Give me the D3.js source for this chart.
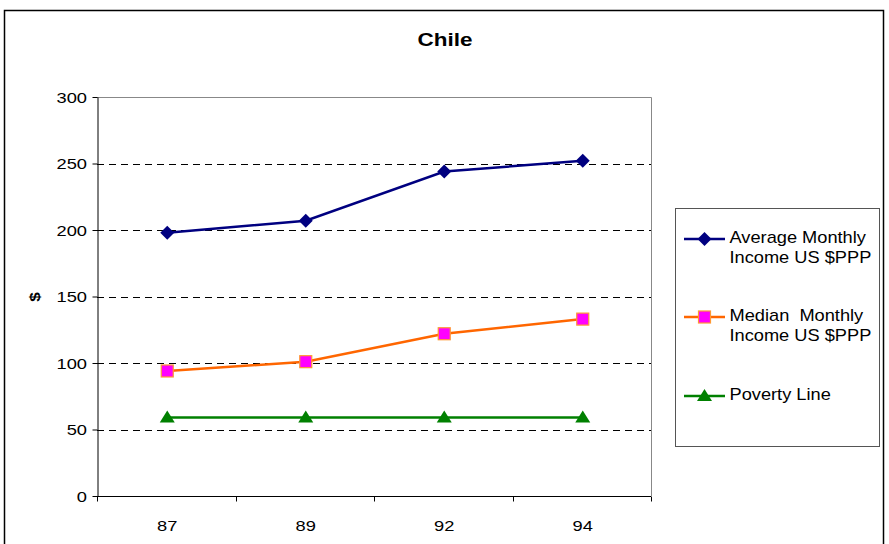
<!DOCTYPE html>
<html>
<head>
<meta charset="utf-8">
<script src="https://cdn.jsdelivr.net/npm/d3@7"></script>
<style>
  html, body { margin: 0; padding: 0; background: #fff; }
  svg { display: block; font-family: "Liberation Sans", Arial, sans-serif; }
</style>
</head>
<body>
<svg id="chart" width="889" height="544"></svg>
<script>
// Survey years and monthly income series (US $PPP)
const years = ["87", "89", "92", "94"];
const averageIncome = [198, 207, 244, 252];
const medianIncome = [94, 101, 122, 133];
const povertyLine = [59, 59, 59, 59];
const yTicks = [0, 50, 100, 150, 200, 250, 300];

const seriesNames = [
  ["Average Monthly", "Income US $PPP"],
  ["Median  Monthly", "Income US $PPP"],
  ["Poverty Line"]
];

const svg = d3.select("#chart");

// Text drawn with a slightly widened face
function wideText(parent, x, y, str, opts) {
  const t = parent.append("text")
    .attr("transform", `translate(${x},${y}) scale(${opts.sx},1)`)
    .attr("font-size", opts.size)
    .attr("text-anchor", opts.anchor || "start")
    .attr("fill", "#000")
    .attr("xml:space", "preserve")
    .style("white-space", "pre")
    .text(str);
  if (opts.bold) t.attr("font-weight", "bold");
  return t;
}

// Outer chart frame
svg.append("rect")
  .attr("x", 4.5).attr("y", 10.5)
  .attr("width", 879).attr("height", 560)
  .attr("fill", "#fff").attr("stroke", "#000").attr("stroke-width", 1.5);

wideText(svg, 445, 46, "Chile", { size: 18, sx: 1.25, anchor: "middle", bold: true });

const plot = { left: 97, right: 651, top: 97, bottom: 496 };

const x = d3.scaleBand().domain(years).range([plot.left, plot.right]);
const y = d3.scaleLinear().domain([0, 300]).range([plot.bottom, plot.top]);

// Plot area border (top and right)
svg.append("path")
  .attr("d", `M${plot.left},${plot.top + 0.5}H${plot.right + 0.5}V${plot.bottom}`)
  .attr("fill", "none").attr("stroke", "#888").attr("stroke-width", 1);

// Dashed gridlines
svg.append("g")
  .selectAll("line")
  .data(yTicks.filter(t => t > 0 && t < 300))
  .join("line")
  .attr("x1", plot.left).attr("x2", plot.right)
  .attr("y1", d => Math.round(y(d)) + 0.5).attr("y2", d => Math.round(y(d)) + 0.5)
  .attr("stroke", "#000").attr("stroke-width", 1)
  .attr("stroke-dasharray", "7,5");

// Y axis
const yAxis = svg.append("g")
  .attr("transform", `translate(${plot.left + 0.5},0)`)
  .call(d3.axisLeft(y).tickValues(yTicks).tickSize(5).tickSizeOuter(0).tickFormat(""));
yAxis.select(".domain").attr("stroke", "#000");
yAxis.selectAll(".tick line").attr("stroke", "#000");
yTicks.forEach(t => {
  wideText(svg, plot.left - 10, y(t) + 5.5, String(t), { size: 15, sx: 1.22, anchor: "end" });
});

// X axis with ticks between categories
const xAxisG = svg.append("g")
  .attr("transform", `translate(0,${plot.bottom + 0.5})`);
xAxisG.append("line")
  .attr("x1", plot.left).attr("x2", plot.right)
  .attr("stroke", "#000");
const boundaries = years.map(d => x(d)).concat([x(years[years.length - 1]) + x.bandwidth()]);
xAxisG.selectAll("line.tk")
  .data(boundaries)
  .join("line").attr("class", "tk")
  .attr("x1", d => Math.round(d) + 0.5).attr("x2", d => Math.round(d) + 0.5)
  .attr("y1", 0).attr("y2", 5)
  .attr("stroke", "#000");
years.forEach(yr => {
  wideText(svg, x(yr) + x.bandwidth() / 2 + 1, plot.bottom + 35, yr, { size: 15, sx: 1.22, anchor: "middle" });
});

// Y axis title
svg.append("text")
  .attr("transform", "translate(36,297) rotate(-90) scale(1.15,1)")
  .attr("text-anchor", "middle")
  .attr("dominant-baseline", "middle")
  .attr("font-size", 15).attr("font-weight", "bold")
  .text("$");

const cx = d => x(d) + x.bandwidth() / 2 + 1;
const line = d3.line().x(d => cx(d.year)).y(d => y(d.value));

const series = [
  { values: averageIncome, color: "#000080", marker: "diamond", fill: "#000080", stroke: "none" },
  { values: medianIncome, color: "#FF6600", marker: "square", fill: "#FF00FF", stroke: "#FF9933" },
  { values: povertyLine, color: "#008000", marker: "triangle", fill: "#008000", stroke: "none" }
];

function drawMarker(g, type, fill, stroke) {
  if (type === "diamond") {
    g.append("path").attr("d", "M0,-7L7,0L0,7L-7,0Z").attr("fill", fill);
  } else if (type === "square") {
    g.append("rect").attr("x", -6).attr("y", -6).attr("width", 12).attr("height", 12)
      .attr("fill", fill).attr("stroke", stroke).attr("stroke-width", 1.2);
  } else {
    g.append("path").attr("d", "M0,-7L7.5,5L-7.5,5Z").attr("fill", fill);
  }
}

series.forEach(s => {
  const pts = years.map((yr, i) => ({ year: yr, value: s.values[i] }));
  svg.append("path")
    .datum(pts)
    .attr("d", line)
    .attr("fill", "none")
    .attr("stroke", s.color)
    .attr("stroke-width", 2.5);
  pts.forEach(p => {
    const g = svg.append("g").attr("transform", `translate(${cx(p.year)},${y(p.value)})`);
    drawMarker(g, s.marker, s.fill, s.stroke);
  });
});

// Legend
const legend = svg.append("g");
legend.append("rect")
  .attr("x", 675.5).attr("y", 208.5)
  .attr("width", 204).attr("height", 238)
  .attr("fill", "#fff").attr("stroke", "#555").attr("stroke-width", 1);

const legendY = [239, 317, 396];
series.forEach((s, i) => {
  const ly = legendY[i];
  legend.append("line")
    .attr("x1", 684).attr("x2", 725)
    .attr("y1", ly).attr("y2", ly)
    .attr("stroke", s.color).attr("stroke-width", 2.5);
  const g = legend.append("g").attr("transform", `translate(704.5,${ly})`);
  drawMarker(g, s.marker, s.fill, s.stroke);
  seriesNames[i].forEach((txt, j) => {
    wideText(legend, 729.5, ly + 3.5 + j * 20.5, txt, { size: 16, sx: 1.14 });
  });
});
</script>
</body>
</html>
